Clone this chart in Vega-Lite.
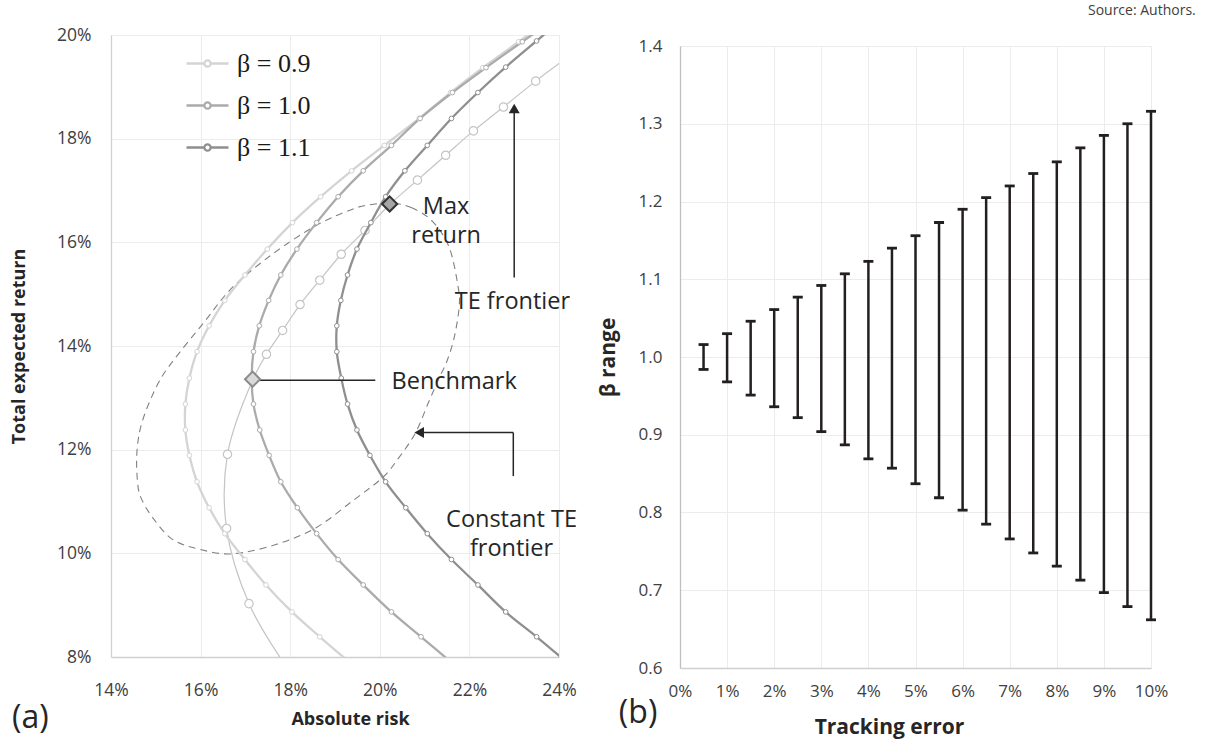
{
  "$schema": "https://vega.github.io/schema/vega-lite/v6.json",
  "background": "white",
  "padding": {"left": 10, "top": 4, "right": 34, "bottom": 4},
  "spacing": 20,
  "title": {"text": "Source: Authors.", "anchor": "end", "frame": "bounds", "fontSize": 14, "font": "Open Sans", "fontWeight": "normal", "color": "#404040", "offset": 8, "dx": 28},
  "config": {
    "view": {"stroke": null},
    "axis": {"labelFont": "Open Sans", "labelFontSize": 17, "labelColor": "#404040", "labelFlush": false, "titleFont": "Open Sans", "titleFontSize": 18, "titleFontWeight": "bold", "titleColor": "#262626", "ticks": false, "tickSize": 0, "gridColor": "#ececec", "gridWidth": 1, "domainColor": "#d0d0d0", "domainWidth": 1.3}
  },
  "datasets": {
    "curves": [
      {"beta": "β = 0.9", "i": 0, "risk": 23.42, "ret": 20.07},
      {"beta": "β = 0.9", "i": 1, "risk": 23.10, "ret": 19.87},
      {"beta": "β = 0.9", "i": 2, "risk": 22.30, "ret": 19.37},
      {"beta": "β = 0.9", "i": 3, "risk": 21.58, "ret": 18.89},
      {"beta": "β = 0.9", "i": 4, "risk": 20.88, "ret": 18.39},
      {"beta": "β = 0.9", "i": 5, "risk": 20.10, "ret": 17.87},
      {"beta": "β = 0.9", "i": 6, "risk": 19.37, "ret": 17.38},
      {"beta": "β = 0.9", "i": 7, "risk": 18.68, "ret": 16.88},
      {"beta": "β = 0.9", "i": 8, "risk": 18.05, "ret": 16.38},
      {"beta": "β = 0.9", "i": 9, "risk": 17.49, "ret": 15.87},
      {"beta": "β = 0.9", "i": 10, "risk": 16.99, "ret": 15.37},
      {"beta": "β = 0.9", "i": 11, "risk": 16.54, "ret": 14.88},
      {"beta": "β = 0.9", "i": 12, "risk": 16.19, "ret": 14.39},
      {"beta": "β = 0.9", "i": 13, "risk": 15.92, "ret": 13.89},
      {"beta": "β = 0.9", "i": 14, "risk": 15.75, "ret": 13.38},
      {"beta": "β = 0.9", "i": 15, "risk": 15.66, "ret": 12.88},
      {"beta": "β = 0.9", "i": 16, "risk": 15.66, "ret": 12.38},
      {"beta": "β = 0.9", "i": 17, "risk": 15.75, "ret": 11.89},
      {"beta": "β = 0.9", "i": 18, "risk": 15.92, "ret": 11.38},
      {"beta": "β = 0.9", "i": 19, "risk": 16.19, "ret": 10.88},
      {"beta": "β = 0.9", "i": 20, "risk": 16.54, "ret": 10.38},
      {"beta": "β = 0.9", "i": 21, "risk": 16.99, "ret": 9.88},
      {"beta": "β = 0.9", "i": 22, "risk": 17.46, "ret": 9.39},
      {"beta": "β = 0.9", "i": 23, "risk": 18.04, "ret": 8.87},
      {"beta": "β = 0.9", "i": 24, "risk": 18.66, "ret": 8.39},
      {"beta": "β = 0.9", "i": 25, "risk": 19.35, "ret": 7.88},
      {"beta": "β = 1.0", "i": 0, "risk": 23.51, "ret": 20.07},
      {"beta": "β = 1.0", "i": 1, "risk": 23.18, "ret": 19.87},
      {"beta": "β = 1.0", "i": 2, "risk": 22.37, "ret": 19.37},
      {"beta": "β = 1.0", "i": 3, "risk": 21.62, "ret": 18.89},
      {"beta": "β = 1.0", "i": 4, "risk": 20.90, "ret": 18.39},
      {"beta": "β = 1.0", "i": 5, "risk": 20.26, "ret": 17.87},
      {"beta": "β = 1.0", "i": 6, "risk": 19.63, "ret": 17.38},
      {"beta": "β = 1.0", "i": 7, "risk": 19.07, "ret": 16.88},
      {"beta": "β = 1.0", "i": 8, "risk": 18.59, "ret": 16.38},
      {"beta": "β = 1.0", "i": 9, "risk": 18.15, "ret": 15.87},
      {"beta": "β = 1.0", "i": 10, "risk": 17.79, "ret": 15.37},
      {"beta": "β = 1.0", "i": 11, "risk": 17.52, "ret": 14.88},
      {"beta": "β = 1.0", "i": 12, "risk": 17.31, "ret": 14.39},
      {"beta": "β = 1.0", "i": 13, "risk": 17.18, "ret": 13.89},
      {"beta": "β = 1.0", "i": 14, "risk": 17.14, "ret": 13.38},
      {"beta": "β = 1.0", "i": 15, "risk": 17.18, "ret": 12.88},
      {"beta": "β = 1.0", "i": 16, "risk": 17.32, "ret": 12.38},
      {"beta": "β = 1.0", "i": 17, "risk": 17.53, "ret": 11.89},
      {"beta": "β = 1.0", "i": 18, "risk": 17.79, "ret": 11.38},
      {"beta": "β = 1.0", "i": 19, "risk": 18.16, "ret": 10.88},
      {"beta": "β = 1.0", "i": 20, "risk": 18.59, "ret": 10.38},
      {"beta": "β = 1.0", "i": 21, "risk": 19.07, "ret": 9.88},
      {"beta": "β = 1.0", "i": 22, "risk": 19.63, "ret": 9.39},
      {"beta": "β = 1.0", "i": 23, "risk": 20.26, "ret": 8.87},
      {"beta": "β = 1.0", "i": 24, "risk": 20.92, "ret": 8.39},
      {"beta": "β = 1.0", "i": 25, "risk": 21.62, "ret": 7.88},
      {"beta": "β = 1.1", "i": 0, "risk": 23.75, "ret": 20.07},
      {"beta": "β = 1.1", "i": 1, "risk": 23.50, "ret": 19.885},
      {"beta": "β = 1.1", "i": 2, "risk": 22.81, "ret": 19.38},
      {"beta": "β = 1.1", "i": 3, "risk": 22.19, "ret": 18.89},
      {"beta": "β = 1.1", "i": 4, "risk": 21.60, "ret": 18.39},
      {"beta": "β = 1.1", "i": 5, "risk": 21.06, "ret": 17.87},
      {"beta": "β = 1.1", "i": 6, "risk": 20.56, "ret": 17.38},
      {"beta": "β = 1.1", "i": 7, "risk": 20.13, "ret": 16.88},
      {"beta": "β = 1.1", "i": 8, "risk": 19.80, "ret": 16.38},
      {"beta": "β = 1.1", "i": 9, "risk": 19.49, "ret": 15.87},
      {"beta": "β = 1.1", "i": 10, "risk": 19.28, "ret": 15.37},
      {"beta": "β = 1.1", "i": 11, "risk": 19.13, "ret": 14.88},
      {"beta": "β = 1.1", "i": 12, "risk": 19.04, "ret": 14.39},
      {"beta": "β = 1.1", "i": 13, "risk": 19.04, "ret": 13.89},
      {"beta": "β = 1.1", "i": 14, "risk": 19.14, "ret": 13.38},
      {"beta": "β = 1.1", "i": 15, "risk": 19.28, "ret": 12.88},
      {"beta": "β = 1.1", "i": 16, "risk": 19.49, "ret": 12.38},
      {"beta": "β = 1.1", "i": 17, "risk": 19.78, "ret": 11.89},
      {"beta": "β = 1.1", "i": 18, "risk": 20.13, "ret": 11.38},
      {"beta": "β = 1.1", "i": 19, "risk": 20.58, "ret": 10.88},
      {"beta": "β = 1.1", "i": 20, "risk": 21.06, "ret": 10.38},
      {"beta": "β = 1.1", "i": 21, "risk": 21.60, "ret": 9.88},
      {"beta": "β = 1.1", "i": 22, "risk": 22.19, "ret": 9.39},
      {"beta": "β = 1.1", "i": 23, "risk": 22.81, "ret": 8.87},
      {"beta": "β = 1.1", "i": 24, "risk": 23.50, "ret": 8.39},
      {"beta": "β = 1.1", "i": 25, "risk": 24.20, "ret": 7.88}
    ],
    "frontier": [
      {"i": 0, "risk": 24.30, "ret": 19.64},
      {"i": 1, "risk": 23.48, "ret": 19.11},
      {"i": 2, "risk": 22.76, "ret": 18.61},
      {"i": 3, "risk": 22.09, "ret": 18.15},
      {"i": 4, "risk": 21.47, "ret": 17.68},
      {"i": 5, "risk": 20.84, "ret": 17.20},
      {"i": 6, "risk": 20.21, "ret": 16.72},
      {"i": 7, "risk": 19.67, "ret": 16.23},
      {"i": 8, "risk": 19.14, "ret": 15.77},
      {"i": 9, "risk": 18.66, "ret": 15.27},
      {"i": 10, "risk": 18.22, "ret": 14.80},
      {"i": 11, "risk": 17.83, "ret": 14.30},
      {"i": 12, "risk": 17.47, "ret": 13.84},
      {"i": 13, "risk": 17.17, "ret": 13.36},
      {"i": 14, "risk": 16.60, "ret": 11.91},
      {"i": 15, "risk": 16.58, "ret": 10.48},
      {"i": 16, "risk": 17.08, "ret": 9.03},
      {"i": 17, "risk": 17.86, "ret": 7.88}
    ],
    "ellipse": [
      {"i": 0, "risk": 20.25, "ret": 16.76},
      {"i": 1, "risk": 20.70, "ret": 16.67},
      {"i": 2, "risk": 21.17, "ret": 16.41},
      {"i": 3, "risk": 21.55, "ret": 15.90},
      {"i": 4, "risk": 21.75, "ret": 15.13},
      {"i": 5, "risk": 21.77, "ret": 14.74},
      {"i": 6, "risk": 21.66, "ret": 14.16},
      {"i": 7, "risk": 21.50, "ret": 13.71},
      {"i": 8, "risk": 21.33, "ret": 13.39},
      {"i": 9, "risk": 21.10, "ret": 12.94},
      {"i": 10, "risk": 20.80, "ret": 12.33},
      {"i": 11, "risk": 20.43, "ret": 11.85},
      {"i": 12, "risk": 20.06, "ret": 11.46},
      {"i": 13, "risk": 19.39, "ret": 11.01},
      {"i": 14, "risk": 18.57, "ret": 10.49},
      {"i": 15, "risk": 17.68, "ret": 10.17},
      {"i": 16, "risk": 16.71, "ret": 9.99},
      {"i": 17, "risk": 15.97, "ret": 10.08},
      {"i": 18, "risk": 15.37, "ret": 10.27},
      {"i": 19, "risk": 14.93, "ret": 10.69},
      {"i": 20, "risk": 14.67, "ret": 11.07},
      {"i": 21, "risk": 14.59, "ret": 11.40},
      {"i": 22, "risk": 14.58, "ret": 11.97},
      {"i": 23, "risk": 14.70, "ret": 12.55},
      {"i": 24, "risk": 15.04, "ret": 13.26},
      {"i": 25, "risk": 15.41, "ret": 13.74},
      {"i": 26, "risk": 16.06, "ret": 14.44},
      {"i": 27, "risk": 16.71, "ret": 15.13},
      {"i": 28, "risk": 17.60, "ret": 15.77},
      {"i": 29, "risk": 18.57, "ret": 16.32},
      {"i": 30, "risk": 19.39, "ret": 16.64},
      {"i": 31, "risk": 19.82, "ret": 16.73}
    ],
    "arrows": [
      {"risk": 23.0, "ret": 15.32, "risk2": 23.0, "ret2": 18.5},
      {"risk": 17.17, "ret": 13.34, "risk2": 19.9, "ret2": 13.34},
      {"risk": 22.98, "ret": 11.49, "risk2": 22.98, "ret2": 12.33},
      {"risk": 22.98, "ret": 12.33, "risk2": 20.95, "ret2": 12.33}
    ],
    "heads": [
      {"dir": "up", "risk": 23.0, "ret": 18.58},
      {"dir": "left", "risk": 20.88, "ret": 12.33}
    ],
    "diamonds": [
      {"name": "Benchmark", "risk": 17.16, "ret": 13.36},
      {"name": "Max return", "risk": 20.22, "ret": 16.74}
    ],
    "notes": [
      {"text": "Max\nreturn", "risk": 21.48, "ret": 16.69},
      {"text": "TE frontier", "risk": 22.96, "ret": 14.84},
      {"text": "Benchmark", "risk": 21.66, "ret": 13.31},
      {"text": "Constant TE\nfrontier", "risk": 22.94, "ret": 10.65}
    ],
    "panela": [
      {"text": "(a)", "risk": 12.2, "ret": 6.82}
    ],
    "betas": [
      {"te": 0.5, "lo": 0.984, "hi": 1.016},
      {"te": 1.0, "lo": 0.968, "hi": 1.030},
      {"te": 1.5, "lo": 0.951, "hi": 1.046},
      {"te": 2.0, "lo": 0.936, "hi": 1.061},
      {"te": 2.5, "lo": 0.922, "hi": 1.077},
      {"te": 3.0, "lo": 0.904, "hi": 1.092},
      {"te": 3.5, "lo": 0.887, "hi": 1.107},
      {"te": 4.0, "lo": 0.869, "hi": 1.123},
      {"te": 4.5, "lo": 0.857, "hi": 1.140},
      {"te": 5.0, "lo": 0.837, "hi": 1.156},
      {"te": 5.5, "lo": 0.819, "hi": 1.173},
      {"te": 6.0, "lo": 0.803, "hi": 1.190},
      {"te": 6.5, "lo": 0.785, "hi": 1.205},
      {"te": 7.0, "lo": 0.766, "hi": 1.220},
      {"te": 7.5, "lo": 0.748, "hi": 1.236},
      {"te": 8.0, "lo": 0.731, "hi": 1.251},
      {"te": 8.5, "lo": 0.713, "hi": 1.269},
      {"te": 9.0, "lo": 0.697, "hi": 1.285},
      {"te": 9.5, "lo": 0.679, "hi": 1.300},
      {"te": 10.0, "lo": 0.662, "hi": 1.316}
    ],
    "panelb": [
      {"text": "(b)", "te": -0.89, "beta": 0.542}
    ],
    "blank": []
  },
  "hconcat": [
    {
      "width": 448,
      "height": 622,
      "encoding": {
        "x": {"field": "risk", "type": "quantitative", "scale": {"domain": [14, 24], "nice": false, "zero": false}, "axis": {"values": [14, 16, 18, 20, 22, 24], "labelExpr": "datum.value + '%'", "title": "Absolute risk", "titleX": 239, "labelFontSize": 17.5, "labelPadding": 24, "titlePadding": 12, "grid": true}},
        "y": {"field": "ret", "type": "quantitative", "scale": {"domain": [8, 20], "nice": false, "zero": false}, "axis": {"values": [8, 10, 12, 14, 16, 18, 20], "labelExpr": "datum.value + '%'", "title": "Total expected return", "labelFontSize": 17.5, "labelPadding": 20, "titlePadding": 28, "grid": true}}
      },
      "layer": [
        {
          "data": {"name": "ellipse"},
          "mark": {"type": "line", "interpolate": "cardinal-closed", "stroke": "#808080", "strokeWidth": 1.1, "strokeDash": [7, 5]},
          "encoding": {"order": {"field": "i", "type": "quantitative"}}
        },
        {
          "data": {"name": "frontier"},
          "mark": {"type": "line", "clip": true, "interpolate": "catmull-rom", "stroke": "#c4c4c4", "strokeWidth": 1.2, "point": {"filled": false, "fill": "white", "stroke": "#c4c4c4", "size": 70, "strokeWidth": 1.2, "clip": true}},
          "encoding": {"order": {"field": "i", "type": "quantitative"}}
        },
        {
          "data": {"name": "curves"},
          "mark": {"type": "line", "clip": true, "interpolate": "catmull-rom", "strokeWidth": 2.3, "point": {"filled": false, "fill": "white", "size": 22, "strokeWidth": 1, "clip": true}},
          "encoding": {
            "order": {"field": "i", "type": "quantitative"},
            "color": {"field": "beta", "type": "nominal", "scale": {"domain": ["β = 0.9", "β = 1.0", "β = 1.1"], "range": ["#d4d4d4", "#ababab", "#8f8f8f"]},
              "legend": {"title": null, "orient": "none", "legendX": 74, "legendY": 6, "padding": 0, "symbolType": "M-1,0H-0.15M0.15,0H1M0.15,0A0.15,0.15,0,1,1,-0.15,0A0.15,0.15,0,1,1,0.15,0Z", "symbolSize": 1764, "symbolStrokeWidth": 2.3, "symbolFillColor": "white", "labelFont": "Liberation Serif", "labelFontSize": 26, "labelColor": "#1a1a1a", "labelOffset": 7, "rowPadding": 6}}
          }
        },
        {
          "data": {"name": "arrows"},
          "mark": {"type": "rule", "color": "#262626", "strokeWidth": 1.5},
          "encoding": {"x2": {"field": "risk2"}, "y2": {"field": "ret2"}}
        },
        {
          "data": {"name": "heads"},
          "mark": {"type": "point", "filled": true, "color": "#262626", "size": 121, "opacity": 1},
          "encoding": {"shape": {"field": "dir", "type": "nominal", "scale": {"domain": ["up", "left"], "range": ["triangle-up", "triangle-left"]}, "legend": null}}
        },
        {
          "data": {"name": "diamonds"},
          "mark": {"type": "point", "shape": "diamond", "filled": true, "size": 230, "strokeWidth": 2, "opacity": 1},
          "encoding": {
            "fill": {"field": "name", "type": "nominal", "scale": {"domain": ["Benchmark", "Max return"], "range": ["#d9d9d9", "#a6a6a6"]}, "legend": null},
            "stroke": {"field": "name", "type": "nominal", "scale": {"domain": ["Benchmark", "Max return"], "range": ["#8c8c8c", "#333333"]}, "legend": null}
          }
        },
        {
          "data": {"name": "notes"},
          "mark": {"type": "text", "font": "Open Sans", "fontSize": 23.5, "color": "#262626", "lineBreak": "\n", "lineHeight": 29, "align": "center", "baseline": "middle"},
          "encoding": {"text": {"field": "text"}}
        },
        {
          "data": {"name": "panela"},
          "mark": {"type": "text", "font": "Open Sans", "fontSize": 32, "color": "#262626", "align": "center", "baseline": "middle"},
          "encoding": {"text": {"field": "text"}}
        }
      ]
    },
    {
      "spacing": 1,
      "vconcat": [
        {
          "width": 471,
          "height": 1,
          "data": {"name": "blank"},
          "mark": {"type": "point", "opacity": 0}
        },
        {
          "width": 471,
          "height": 622,
          "encoding": {
            "x": {"field": "te", "type": "quantitative", "scale": {"domain": [0, 10], "nice": false, "zero": false}, "axis": {"values": [0, 1, 2, 3, 4, 5, 6, 7, 8, 9, 10], "labelExpr": "datum.value + '%'", "title": "Tracking error", "titleX": 209, "titleFontSize": 21, "labelPadding": 15, "titlePadding": 17, "grid": true}}
          },
          "layer": [
            {
              "data": {"name": "betas"},
              "mark": {"type": "rule", "color": "#231f20", "strokeWidth": 2.5},
              "encoding": {
                "y": {"field": "lo", "type": "quantitative", "scale": {"domain": [0.6, 1.4], "nice": false, "zero": false}, "axis": {"values": [0.6, 0.7, 0.8, 0.9, 1.0, 1.1, 1.2, 1.3, 1.4], "format": ".1f", "title": "β range", "titleFontSize": 21, "labelPadding": 18, "titlePadding": 20, "grid": true, "domainColor": "#bfbfbf"}},
                "y2": {"field": "hi"}
              }
            },
            {
              "data": {"name": "betas"},
              "mark": {"type": "tick", "orient": "horizontal", "size": 10, "thickness": 2.8, "color": "#231f20", "opacity": 1},
              "encoding": {"y": {"field": "lo", "type": "quantitative"}}
            },
            {
              "data": {"name": "betas"},
              "mark": {"type": "tick", "orient": "horizontal", "size": 10, "thickness": 2.8, "color": "#231f20", "opacity": 1},
              "encoding": {"y": {"field": "hi", "type": "quantitative"}}
            },
            {
              "data": {"name": "panelb"},
              "mark": {"type": "text", "font": "Open Sans", "fontSize": 32, "color": "#262626", "align": "center", "baseline": "middle"},
              "encoding": {"y": {"field": "beta", "type": "quantitative"}, "text": {"field": "text"}}
            }
          ]
        }
      ]
    }
  ]
}
